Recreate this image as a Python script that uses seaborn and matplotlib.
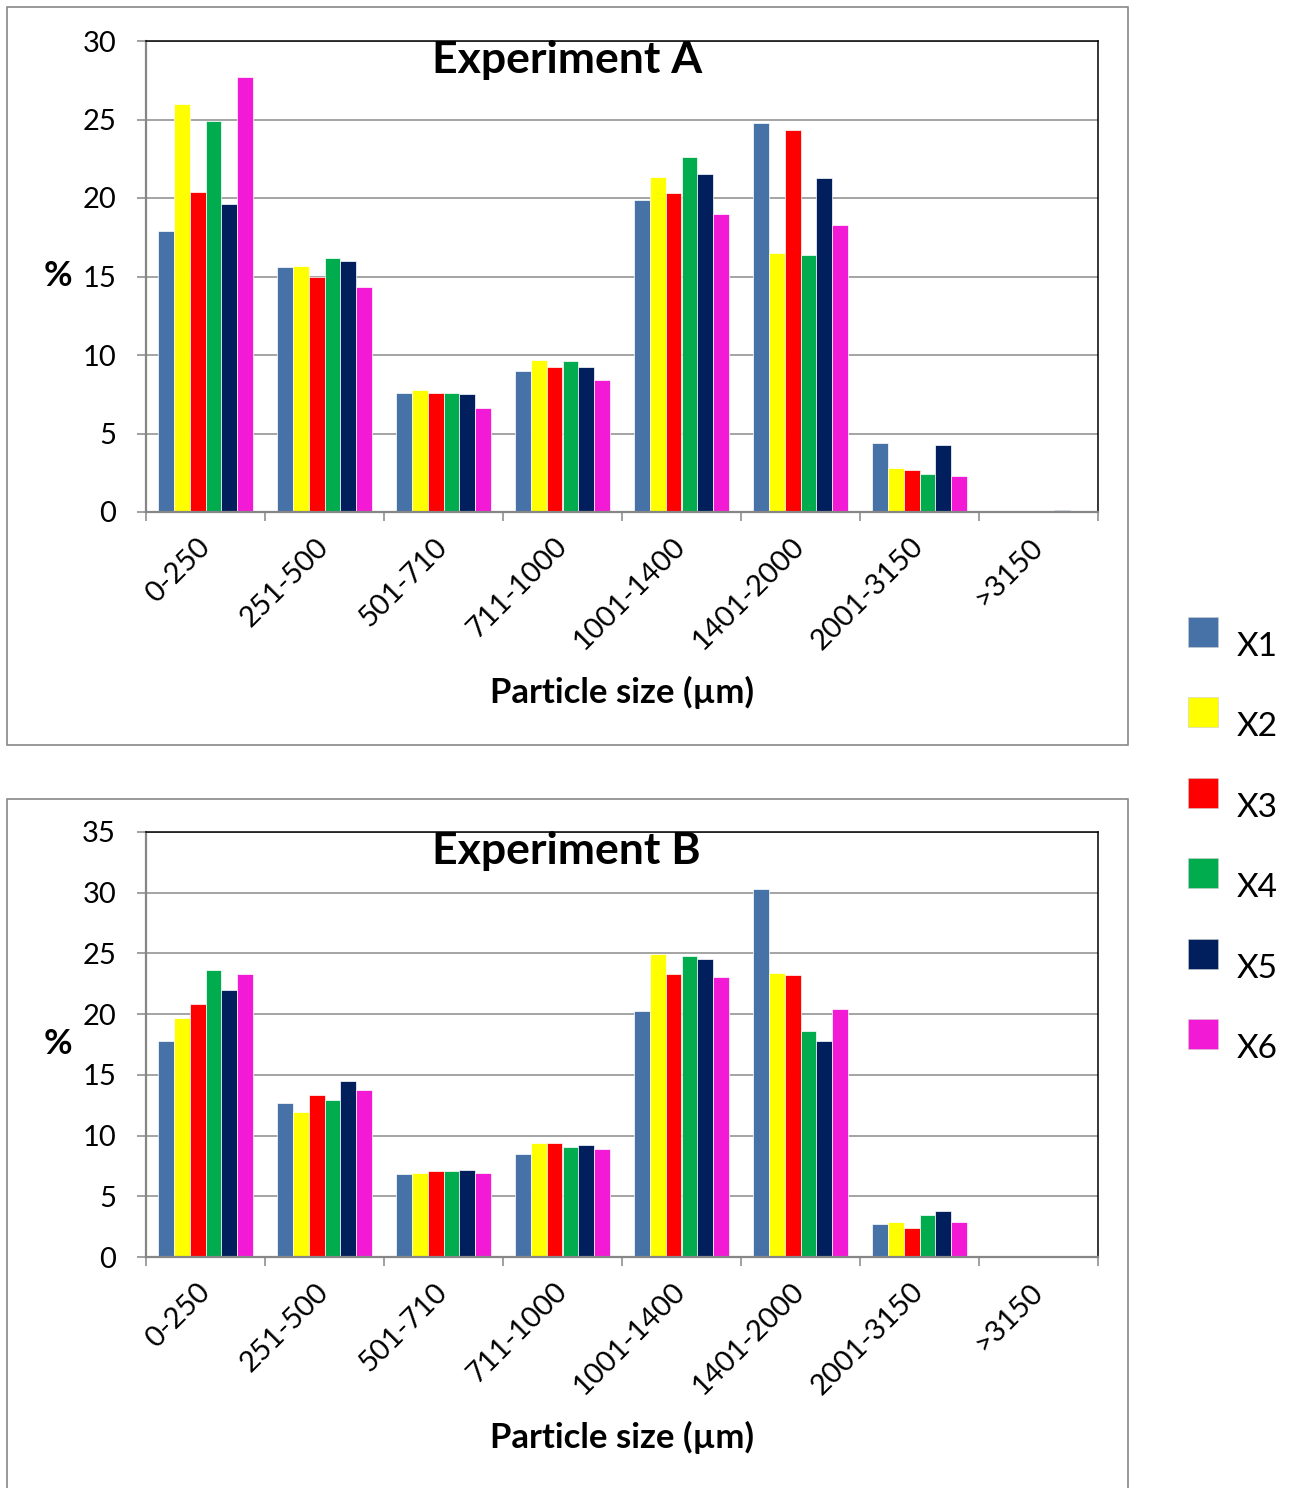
import numpy as np
import pandas as pd
import matplotlib
matplotlib.use("Agg")
import matplotlib.pyplot as plt
from matplotlib.patches import Rectangle
import seaborn as sns

# Particle size classes (µm)
sizes = ["0-250", "251-500", "501-710", "711-1000", "1001-1400",
         "1401-2000", "2001-3150", ">3150"]
series = ["X1", "X2", "X3", "X4", "X5", "X6"]
colors = ["#4672A8", "#FFFF00", "#FF0000", "#00AC4E", "#001F5C", "#F31AD6"]

# Experiment A: % of mass per size class, one list per sample
exp_a = {
    "X1": [17.9, 15.6, 7.55, 9.0, 19.9, 24.8, 4.4, 0.0],
    "X2": [26.0, 15.7, 7.75, 9.65, 21.35, 16.5, 2.8, 0.0],
    "X3": [20.4, 15.0, 7.55, 9.25, 20.3, 24.35, 2.7, 0.04],
    "X4": [24.9, 16.15, 7.6, 9.6, 22.6, 16.35, 2.45, 0.03],
    "X5": [19.6, 16.0, 7.5, 9.25, 21.5, 21.25, 4.25, 0.15],
    "X6": [27.7, 14.35, 6.65, 8.4, 19.0, 18.25, 2.3, 0.08],
}

# Experiment B
exp_b = {
    "X1": [17.8, 12.7, 6.85, 8.45, 20.25, 30.3, 2.7, 0.0],
    "X2": [19.7, 11.95, 6.9, 9.4, 24.95, 23.35, 2.85, 0.0],
    "X3": [20.8, 13.35, 7.1, 9.35, 23.3, 23.2, 2.35, 0.0],
    "X4": [23.6, 12.95, 7.05, 9.05, 24.8, 18.65, 3.5, 0.0],
    "X5": [22.0, 14.5, 7.15, 9.2, 24.55, 17.8, 3.75, 0.05],
    "X6": [23.3, 13.75, 6.95, 8.9, 23.05, 20.45, 2.9, 0.0],
}


def to_long(table):
    rows = []
    for s in series:
        for size, v in zip(sizes, table[s]):
            rows.append({"size": size, "series": s, "pct": v})
    return pd.DataFrame(rows)


sns.set_theme(style="white")
plt.rcParams["font.family"] = ["Lato", "DejaVu Sans"]
plt.rcParams["text.color"] = "black"

W, H = 1293, 1488
fig = plt.figure(figsize=(W / 100, H / 100), dpi=100)
fig.patch.set_facecolor("white")

GRID = "#8C8C8C"
AXIS = "#868686"


def px_x(x):
    return x / W


def px_y(y):
    return 1 - y / H


# outer chart frames
for (x0, y0, x1, y1) in [(7, 7, 1128, 745), (7, 799, 1128, 1500)]:
    fig.patches.append(Rectangle((px_x(x0), px_y(y1)), px_x(x1) - px_x(x0),
                                 px_y(y0) - px_y(y1), transform=fig.transFigure,
                                 fill=False, edgecolor="#888888", linewidth=1.2,
                                 zorder=0))


def draw_panel(rect, table, ymax, title, title_y, xlabel_y):
    ax = fig.add_axes(rect)
    df = to_long(table)
    sns.barplot(data=df, x="size", y="pct", hue="series", order=sizes,
                hue_order=series, palette=colors, saturation=1, width=0.8,
                errorbar=None, edgecolor="white", linewidth=0.5,
                legend=False, ax=ax)
    ax.set_axisbelow(True)
    ax.set_xlim(-0.5, len(sizes) - 0.5)
    ax.set_ylim(0, ymax)
    ax.set_yticks(np.arange(0, ymax + 1, 5))
    ax.yaxis.grid(True, color=GRID, linewidth=1.1)
    ax.xaxis.grid(False)
    ax.set_xlabel("")
    ax.set_ylabel("")
    ax.set_facecolor("white")

    for side in ("top", "right"):
        ax.spines[side].set_color("black")
        ax.spines[side].set_linewidth(1.1)
    for side in ("left", "bottom"):
        ax.spines[side].set_color(AXIS)
        ax.spines[side].set_linewidth(1.6)

    ax.tick_params(axis="y", which="major", direction="out", length=6.5,
                   width=1.1, color=AXIS, pad=15, labelsize=21,
                   labelcolor="black", left=True)
    ax.set_xticks(range(len(sizes)))
    ax.set_xticklabels(sizes, rotation=45, ha="right", va="center",
                       rotation_mode="anchor")
    ax.tick_params(axis="x", which="major", length=0, pad=22, labelsize=21,
                   labelcolor="black")
    ax.set_xticks(np.arange(-0.5, len(sizes)), minor=True)
    ax.tick_params(axis="x", which="minor", direction="out", length=6.5,
                   width=1.1, color=AXIS, bottom=True)

    ax.text(0.442, title_y, title, transform=ax.transAxes, ha="center",
            va="baseline", fontsize=32, fontweight="bold", color="black")

    cy = rect[1] + rect[3] / 2
    fig.text(px_x(58), cy, "%", ha="center", va="center", fontsize=25,
             fontweight="bold", color="black")
    fig.text(rect[0] + rect[2] / 2, xlabel_y, "Particle size (µm)",
             ha="center", va="baseline", fontsize=25, fontweight="bold",
             color="black")
    return ax


draw_panel([px_x(146), px_y(512), px_x(1098) - px_x(146), px_y(41) - px_y(512)],
           exp_a, 30, "Experiment A", 0.932, px_y(703))
draw_panel([px_x(146), px_y(1257), px_x(1098) - px_x(146), px_y(832) - px_y(1257)],
           exp_b, 35, "Experiment B", 0.925, px_y(1448))

# legend on the right
for i, (s, c) in enumerate(zip(series, colors)):
    cy = 632 + i * 80.4
    fig.patches.append(Rectangle((px_x(1188), px_y(cy + 15)), px_x(30),
                                 30 / H, transform=fig.transFigure,
                                 facecolor=c, edgecolor="#cccccc",
                                 linewidth=0.4))
    fig.text(px_x(1237), px_y(cy + 24), s, ha="left", va="baseline",
             fontsize=24, color="black")

fig.savefig("out.png", dpi=100, facecolor="white")
